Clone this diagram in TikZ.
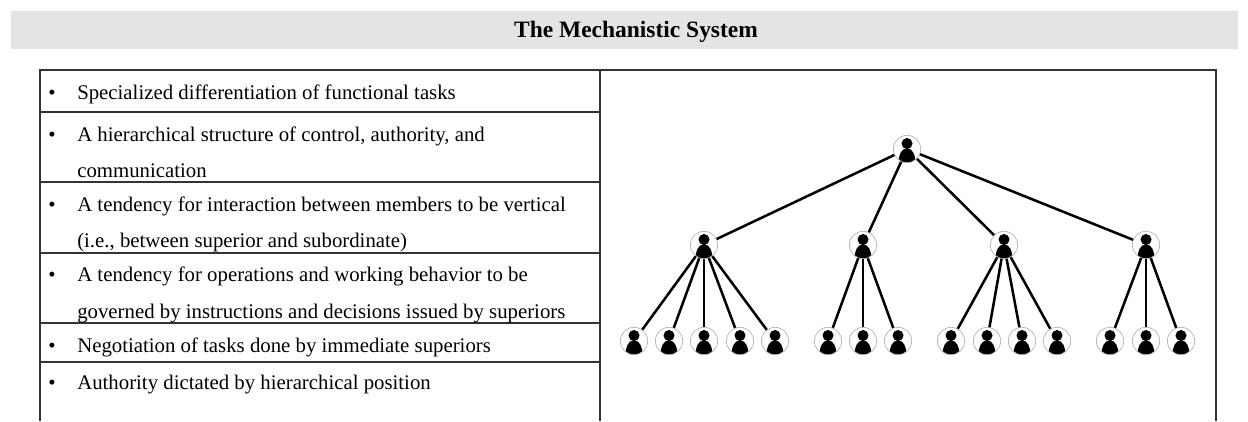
\documentclass[tikz,border=0pt]{standalone}
\usepackage{fontspec}
\setmainfont{Liberation Serif}
\definecolor{bandgray}{HTML}{E4E4E4}
\definecolor{rulegray}{HTML}{333333}
\tikzset{
  tabletext/.style={anchor=base west,inner sep=0pt,font=\fontsize{15.6}{15.6}\selectfont},
  titletext/.style={anchor=base,inner sep=0pt,font=\fontsize{17.6}{17.6}\selectfont\bfseries},
  tablerule/.style={rulegray,line width=1.1pt},
  link/.style={black,line width=1.9pt},
  person/.style={circle,draw=black!30,line width=0.5pt,inner sep=0pt,minimum size=20.5pt,
    path picture={
      \fill[black] (0,-5.5) circle (5.5);
      \fill[black] (-8.5,14) .. controls (-8.5,6) and (-6,0) .. (0,-1) .. controls (6,0) and (8.5,6) .. (8.5,14) -- cycle;
    }}
}
\begin{document}
\begin{tikzpicture}[x=0.75pt,y=-0.75pt]
    \useasboundingbox (0,0) rectangle (1248,421);

    \fill[bandgray] (11,11) rectangle (1238,49);
    \node[titletext] (title) at (636,37) {The Mechanistic System};

    \draw[tablerule] (40,421) -- (40,70) -- (1216,70) -- (1216,421);
    \draw[tablerule] (600,70) -- (600,421);
    \draw[tablerule] (40,112) -- (600,112);
    \draw[tablerule] (40,182) -- (600,182);
    \draw[tablerule] (40,253) -- (600,253);
    \draw[tablerule] (40,323) -- (600,323);
    \draw[tablerule] (40,362) -- (600,362);

    \node[tabletext] (bulleta) at (48,99) {•};
    \node[tabletext] (bulletb) at (48,141) {•};
    \node[tabletext] (bulletc) at (48,211) {•};
    \node[tabletext] (bulletd) at (48,281) {•};
    \node[tabletext] (bullete) at (48,352) {•};
    \node[tabletext] (bulletf) at (48,389) {•};
    \node[tabletext] (rowa) at (77,99) {Specialized differentiation of functional tasks};
    \node[tabletext] (rowb) at (77,141) {A hierarchical structure of control, authority, and};
    \node[tabletext] (rowbb) at (77,177) {communication};
    \node[tabletext] (rowc) at (77,211) {A tendency for interaction between members to be vertical};
    \node[tabletext] (rowcc) at (77,247) {(i.e., between superior and subordinate)};
    \node[tabletext] (rowd) at (77,281) {A tendency for operations and working behavior to be};
    \node[tabletext] (rowdd) at (77,318) {governed by instructions and decisions issued by superiors};
    \node[tabletext] (rowe) at (77,352) {Negotiation of tasks done by immediate superiors};
    \node[tabletext] (rowf) at (77,389) {Authority dictated by hierarchical position};

    \node[person] (top) at (907,149) {};
    \node[person] (boss1) at (704,245) {};
    \node[person] (boss2) at (863,245) {};
    \node[person] (boss3) at (1004,245) {};
    \node[person] (boss4) at (1146,245) {};
    \node[person] (staff1) at (634,341) {};
    \node[person] (staff2) at (669,341) {};
    \node[person] (staff3) at (704,341) {};
    \node[person] (staff4) at (740,341) {};
    \node[person] (staff5) at (775,341) {};
    \node[person] (staff6) at (828,341) {};
    \node[person] (staff7) at (863,341) {};
    \node[person] (staff8) at (898,341) {};
    \node[person] (staff9) at (951,341) {};
    \node[person] (staff10) at (987,341) {};
    \node[person] (staff11) at (1022,341) {};
    \node[person] (staff12) at (1057,341) {};
    \node[person] (staff13) at (1110,341) {};
    \node[person] (staff14) at (1146,341) {};
    \node[person] (staff15) at (1181,341) {};

    \draw[link] (top) -- (boss1);
    \draw[link] (top) -- (boss2);
    \draw[link] (top) -- (boss3);
    \draw[link] (top) -- (boss4);
    \draw[link] (boss1) -- (staff1);
    \draw[link] (boss1) -- (staff2);
    \draw[link] (boss1) -- (staff3);
    \draw[link] (boss1) -- (staff4);
    \draw[link] (boss1) -- (staff5);
    \draw[link] (boss2) -- (staff6);
    \draw[link] (boss2) -- (staff7);
    \draw[link] (boss2) -- (staff8);
    \draw[link] (boss3) -- (staff9);
    \draw[link] (boss3) -- (staff10);
    \draw[link] (boss3) -- (staff11);
    \draw[link] (boss3) -- (staff12);
    \draw[link] (boss4) -- (staff13);
    \draw[link] (boss4) -- (staff14);
    \draw[link] (boss4) -- (staff15);
\end{tikzpicture}
\end{document}
